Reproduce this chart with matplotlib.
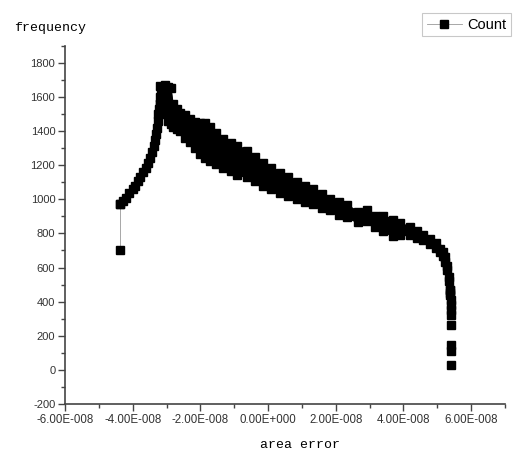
import numpy as np
from matplotlib import pyplot as plt
from matplotlib.ticker import MultipleLocator

# values, x in units of 1e-8
lone_x = [-4.37, -4.37]
lone_y = [700, 975]

rise_x = [-4.37, -4.28, -4.20, -4.10, -3.99, -3.92, -3.85, -3.78, -3.70, -3.62, -3.55,
          -3.49, -3.43, -3.38, -3.33, -3.30, -3.28, -3.26, -3.24, -3.22, -3.20, -3.19, -3.17]
rise_y = [975, 990, 1010, 1035, 1060, 1080, 1105, 1130, 1160, 1185, 1215,
          1245, 1280, 1315, 1350, 1385, 1420, 1460, 1500, 1530, 1560, 1600, 1640]

band_x = [-3.18, -3.05, -2.95, -2.88, -2.82, -2.70, -2.60, -2.45, -2.31, -2.15, -2.01,
          -1.85, -1.72, -1.55, -1.33, -1.10, -0.92, -0.62, -0.40, -0.15, 0.10, 0.35,
          0.60, 0.85, 1.10, 1.33, 1.60, 1.83, 2.10, 2.33, 2.66, 2.92, 3.15, 3.39,
          3.69, 3.90, 4.19, 4.40, 4.58, 4.78, 4.95, 5.08, 5.17, 5.24, 5.30, 5.35, 5.38]
band_hi = [1665, 1670, 1660, 1655, 1560, 1530, 1505, 1495, 1470, 1455, 1450,
           1445, 1425, 1390, 1355, 1330, 1315, 1285, 1250, 1215, 1185, 1155,
           1130, 1100, 1080, 1060, 1030, 1000, 985, 965, 925, 935, 905, 905,
           880, 860, 835, 815, 790, 765, 745, 710, 690, 660, 610, 545, 470]
band_lo = [1560, 1500, 1460, 1440, 1425, 1415, 1400, 1360, 1335, 1300, 1265,
           1240, 1225, 1205, 1185, 1165, 1145, 1130, 1110, 1080, 1060, 1040,
           1020, 1000, 985, 970, 950, 935, 910, 895, 865, 875, 840, 815,
           785, 790, 790, 775, 760, 740, 715, 690, 665, 630, 585, 520, 450]

tail_x = [5.38, 5.39, 5.40, 5.40, 5.40, 5.40, 5.40, 5.40, 5.41, 5.40]
tail_y = [470, 440, 410, 380, 350, 322, 262, 148, 112, 30]

xtick_vals = [-6, -4, -2, 0, 2, 4, 6]
xtick_labels = ["-6.00E-008", "-4.00E-008", "-2.00E-008", "0.00E+000",
                "2.00E-008", "4.00E-008", "6.00E-008"]
ytick_vals = [-200, 0, 200, 400, 600, 800, 1000, 1200, 1400, 1600, 1800]

fig = plt.figure(figsize=(5.2, 4.59), dpi=100)
ax = fig.add_axes([0.125, 0.120, 0.846, 0.780])

ms = 6
mk = dict(marker="s", ms=ms, mfc="black", mec="black")
ax.plot(lone_x, lone_y, color="#999999", lw=0.6, **mk)
ax.plot(rise_x, rise_y, color="#999999", lw=0.6, label="Count", **mk)
# dense cloud of points: fill the band between the edges
poly_x = band_x + band_x[::-1]
poly_y = band_hi + band_lo[::-1]
ax.fill(poly_x, poly_y, facecolor="black", edgecolor="black", lw=1.5, zorder=3)
ax.plot(band_x, band_hi, color="black", lw=1, zorder=4, **mk)
ax.plot(band_x, band_lo, color="black", lw=1, zorder=4, **mk)
ax.plot(tail_x, tail_y, ls="none", **mk)

ax.set_xlim(-6, 7)
ax.set_ylim(-200, 1900)
ax.set_xticks(xtick_vals)
ax.set_xticklabels(xtick_labels, fontsize=8.3, family="Liberation Sans", color="#333333")
ax.set_yticks(ytick_vals)
ax.set_yticklabels([str(v) for v in ytick_vals], fontsize=8, family="Liberation Sans", color="#333333")
ax.xaxis.set_minor_locator(MultipleLocator(1))
ax.yaxis.set_minor_locator(MultipleLocator(100))
ax.tick_params(which="major", direction="out", length=5, width=1, color="#444444", pad=2)
ax.tick_params(which="minor", direction="out", length=3, width=1, color="#444444")

for s in ["top", "right"]:
    ax.spines[s].set_visible(False)
for s in ["left", "bottom"]:
    ax.spines[s].set_linewidth(1.2)
    ax.spines[s].set_color("#444444")

fig.text(0.028, 0.938, "frequency", fontsize=9.5, family="Liberation Mono", ha="left", va="center")
fig.text(0.577, 0.030, "area error", fontsize=9.5, family="Liberation Mono", ha="center", va="center")

leg = fig.legend(loc="upper right", bbox_to_anchor=(0.997, 0.987),
                 prop={"family": "Liberation Sans", "size": 10.5},
                 fancybox=False, edgecolor="#bbbbbb", handlelength=2.4, borderpad=0.3,
                 handletextpad=0.4)
leg.get_frame().set_linewidth(0.8)

fig.savefig("out.png", dpi=100)
